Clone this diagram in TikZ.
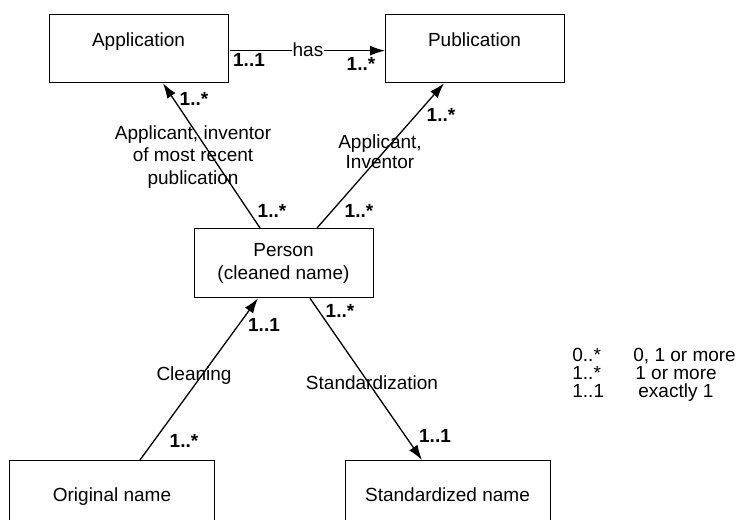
\documentclass[tikz,border=0pt]{standalone}
\usepackage{fontspec}
\setmainfont{Liberation Sans}
\usetikzlibrary{arrows.meta,calc}
\begin{document}
\begin{tikzpicture}[x=0.5pt,y=-0.5pt,
  box/.style={draw,line width=0.65pt,rectangle,inner sep=0pt,anchor=north west},
  txt/.style={font=\fontsize{9.5pt}{11.4pt}\selectfont,inner sep=0pt},
  mult/.style={font=\fontsize{9.5pt}{11.4pt}\selectfont\bfseries,inner sep=0pt},
  conn/.style={line width=0.65pt,-{Latex[length=7.5pt,width=5pt]}},
]
\useasboundingbox (0,0) rectangle (741,520);
\clip (0,0) rectangle (741,520);
% boxes
\node[box,minimum width=89.5pt,minimum height=34pt] (app) at (49,14) {};
\node[box,minimum width=89.5pt,minimum height=34pt] (pub) at (385,14) {};
\node[box,minimum width=89.5pt,minimum height=34.5pt] (person) at (194,228) {};
\node[box,minimum width=102.5pt,minimum height=36pt] (orig) at (9,460) {};
\node[box,minimum width=102.5pt,minimum height=36pt] (std) at (345,460) {};
% box texts
\node[txt,anchor=base] (tapp) at (138.5,46) {Application};
\node[txt,anchor=base] (tpub) at (474.5,46) {Publication};
\node[txt,align=center,font=\fontsize{9.5pt}{11.5pt}\selectfont] (tperson) at (283.5,263) {Person\\(cleaned name)};
\node[txt,anchor=base] (torig) at (112,501) {Original name};
\node[txt,anchor=base] (tstd) at (447.5,501) {Standardized name};
% connectors
\draw[conn] ($(app.east)+(1,2)$) -- ($(pub.west)+(0,2)$);
\draw[conn] ($(person.north west)+(66,0)$) -- ($(app.south west)+(114,0)$);
\draw[conn] ($(person.north west)+(123,0)$) -- ($(pub.south west)+(59,0)$);
\draw[conn] ($(orig.north west)+(131,0)$) -- ($(person.south west)+(64,0)$);
\draw[conn] ($(person.south west)+(116,0)$) -- ($(std.north west)+(77,0)$);
% connector labels
\node[txt,fill=white,inner xsep=0.4pt,inner ysep=1pt] (lhas) at (308,50) {has};
\node[txt,align=center,font=\fontsize{9.5pt}{11.25pt}\selectfont] (lapp) at (193,157) {Applicant, inventor\\of most recent\\publication};
\node[txt,align=center,font=\fontsize{9.5pt}{10pt}\selectfont] (lpub) at (380,152) {Applicant,\\Inventor};
\node[txt] (lclean) at (194,376) {Cleaning};
\node[txt] (lstd) at (372,383) {Standardization};
% multiplicities
\node[mult] (m1) at (249,60) {1..1};
\node[mult] (m2) at (361,64) {1..*};
\node[mult] (m3) at (194,99) {1..*};
\node[mult] (m4) at (441,115) {1..*};
\node[mult] (m5) at (272,211) {1..*};
\node[mult] (m6) at (359,211) {1..*};
\node[mult] (m7) at (264,325) {1..1};
\node[mult] (m8) at (340,311) {1..*};
\node[mult] (m9) at (184,441) {1..*};
\node[mult] (m10) at (435,436) {1..1};
% legend
\node[txt,anchor=base west] (k1) at (572,361) {0..*};
\node[txt,anchor=base west] (v1) at (633,361) {0, 1 or more};
\node[txt,anchor=base west] (k2) at (572,379) {1..*};
\node[txt,anchor=base west] (v2) at (635,379) {1 or more};
\node[txt,anchor=base west] (k3) at (572,397) {1..1};
\node[txt,anchor=base west] (v3) at (638,397) {exactly 1};
\end{tikzpicture}
\end{document}
